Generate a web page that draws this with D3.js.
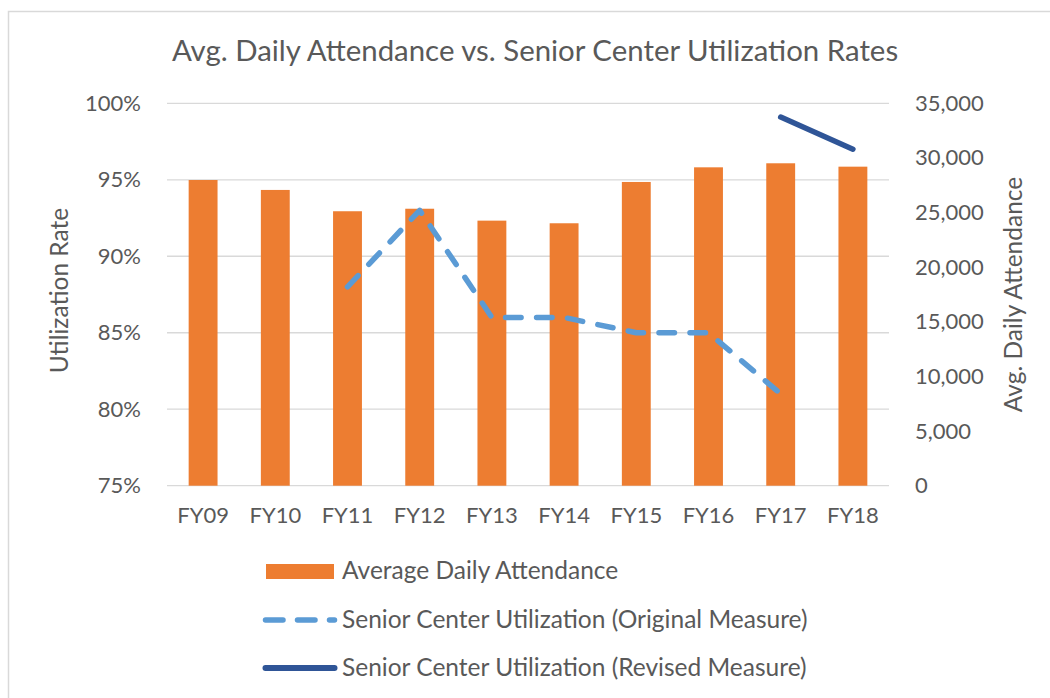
<!DOCTYPE html>
<html>
<head>
<meta charset="utf-8">
<script src="https://cdn.jsdelivr.net/npm/d3@7"></script>
<style>
  body { margin: 0; background: #fff; }
  text { font-family: Lato, "Open Sans", sans-serif; fill: #595959; }
</style>
</head>
<body>
<svg width="1050" height="698"></svg>
<script>
// data
var years = ["FY09", "FY10", "FY11", "FY12", "FY13", "FY14", "FY15", "FY16", "FY17", "FY18"];
var attendance = [27980, 27070, 25120, 25350, 24260, 24020, 27800, 29140, 29510, 29200];
var originalYears = ["FY11", "FY12", "FY13", "FY14", "FY15", "FY16", "FY17"];
var originalRate = [0.88, 0.93, 0.86, 0.86, 0.85, 0.85, 0.81];
var revisedYears = ["FY17", "FY18"];
var revisedRate = [0.991, 0.97];
var pctTicks = [0.75, 0.80, 0.85, 0.90, 0.95, 1.00];
var countTicks = [0, 5000, 10000, 15000, 20000, 25000, 30000, 35000];

var orange = "#ED7D31", lightBlue = "#5B9BD5", darkBlue = "#2F5597", grid = "#d9d9d9";

var svg = d3.select("svg");

// chart border (runs off the right and bottom edges)
svg.append("rect")
  .attr("x", 8.5).attr("y", 11.5)
  .attr("width", 1100).attr("height", 800)
  .attr("fill", "none").attr("stroke", grid).attr("stroke-width", 1.5);

var plotLeft = 167, plotRight = 889, plotTop = 103.3, plotBottom = 485.7;

var x = d3.scaleBand().domain(years).range([plotLeft, plotRight]).paddingInner(0.6).paddingOuter(0.3);
var yPct = d3.scaleLinear().domain([0.75, 1.0]).range([plotBottom, plotTop]);
var yCount = d3.scaleLinear().domain([0, 35000]).range([plotBottom, plotTop]);

// gridlines
svg.append("g")
  .selectAll("line")
  .data(pctTicks)
  .join("line")
  .attr("x1", plotLeft).attr("x2", plotRight)
  .attr("y1", function(d) { return yPct(d); })
  .attr("y2", function(d) { return yPct(d); })
  .attr("stroke", grid).attr("stroke-width", 1.3);

function styleAxis(g) {
  g.select(".domain").remove();
  g.selectAll("text").attr("font-size", 22).attr("font-family", "Lato").attr("fill", "#595959");
}

// left axis
svg.append("g")
  .attr("transform", "translate(" + (plotLeft - 26) + ",0)")
  .call(d3.axisLeft(yPct).tickValues(pctTicks).tickFormat(d3.format(".0%")).tickSize(0).tickPadding(0))
  .call(styleAxis);

// right axis
svg.append("g")
  .attr("transform", "translate(915,0)")
  .call(d3.axisRight(yCount).tickValues(countTicks).tickFormat(d3.format(",")).tickSize(0).tickPadding(0))
  .call(styleAxis);

// bottom axis labels
svg.append("g")
  .attr("transform", "translate(0," + plotBottom + ")")
  .call(d3.axisBottom(x).tickSize(0).tickPadding(22))
  .call(styleAxis);

// bars
svg.append("g")
  .selectAll("rect")
  .data(years)
  .join("rect")
  .attr("x", function(d) { return x(d); })
  .attr("width", x.bandwidth())
  .attr("y", function(d, i) { return yCount(attendance[i]); })
  .attr("height", function(d, i) { return plotBottom - yCount(attendance[i]); })
  .attr("fill", orange);

// lines
var cx = function(d) { return x(d) + x.bandwidth() / 2; };

svg.append("path")
  .datum(originalYears.map(function(d, i) { return [cx(d), yPct(originalRate[i])]; }))
  .attr("d", d3.line())
  .attr("fill", "none")
  .attr("stroke", lightBlue)
  .attr("stroke-width", 5.5)
  .attr("stroke-linecap", "round")
  .attr("stroke-linejoin", "round")
  .attr("stroke-dasharray", "15.5 15.5");

svg.append("path")
  .datum(revisedYears.map(function(d, i) { return [cx(d), yPct(revisedRate[i])]; }))
  .attr("d", d3.line())
  .attr("fill", "none")
  .attr("stroke", darkBlue)
  .attr("stroke-width", 5.5)
  .attr("stroke-linecap", "round");

// title
svg.append("text")
  .attr("x", 535).attr("y", 61)
  .attr("text-anchor", "middle")
  .attr("font-size", 29.4)
  .text("Avg. Daily Attendance vs. Senior Center Utilization Rates");

// axis titles
svg.append("text")
  .attr("transform", "translate(68," + ((plotTop + plotBottom) / 2 - 4) + ") rotate(-90)")
  .attr("text-anchor", "middle")
  .attr("font-size", 24.5)
  .text("Utilization Rate");

svg.append("text")
  .attr("transform", "translate(1022," + ((plotTop + plotBottom) / 2) + ") rotate(-90)")
  .attr("text-anchor", "middle")
  .attr("font-size", 24.5)
  .text("Avg. Daily Attendance");

// legend
var legend = svg.append("g");
legend.append("rect")
  .attr("x", 266).attr("y", 564).attr("width", 68).attr("height", 15)
  .attr("fill", orange);
legend.append("line")
  .attr("x1", 265.5).attr("x2", 334.5).attr("y1", 620).attr("y2", 620)
  .attr("stroke", lightBlue).attr("stroke-width", 5.5)
  .attr("stroke-linecap", "round").attr("stroke-dasharray", "17.5 14.5");
legend.append("line")
  .attr("x1", 265.5).attr("x2", 334.5).attr("y1", 668).attr("y2", 668)
  .attr("stroke", darkBlue).attr("stroke-width", 6)
  .attr("stroke-linecap", "round");

var legendLabels = ["Average Daily Attendance", "Senior Center Utilization (Original Measure)", "Senior Center Utilization (Revised Measure)"];
var legendY = [579, 628, 676];
legend.selectAll("text.lab")
  .data(legendLabels)
  .join("text")
  .attr("class", "lab")
  .attr("x", 342)
  .attr("y", function(d, i) { return legendY[i]; })
  .attr("font-size", 24.5)
  .text(function(d) { return d; });
</script>
</body>
</html>
